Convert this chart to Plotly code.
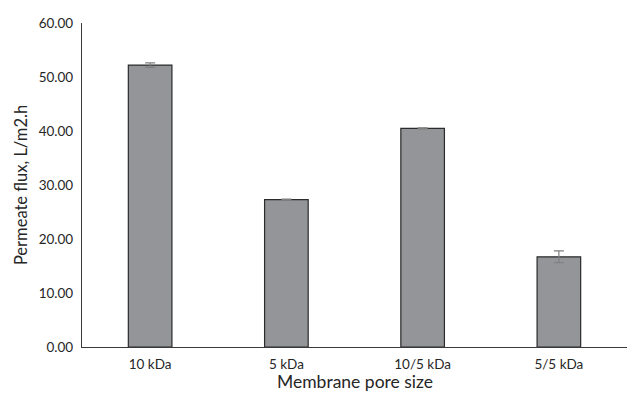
import plotly.graph_objects as go

# Permeate flux by membrane pore size
pore_sizes = ["10 kDa", "5 kDa", "10/5 kDa", "5/5 kDa"]
flux = [52.2, 27.3, 40.5, 16.7]
flux_err = [0.4, 0.1, 0.1, 1.1]
y_ticks = [0, 10, 20, 30, 40, 50, 60]

fig = go.Figure(
    go.Bar(
        x=pore_sizes,
        y=flux,
        marker=dict(color="#939598", line=dict(color="#2b2b2b", width=1.2)),
        error_y=dict(type="data", array=flux_err, visible=True,
                     color="#7f7f7f", thickness=1.2, width=5),
        width=0.32,
    )
)

font_family = "Lato, 'Open Sans', sans-serif"
fig.update_layout(
    width=636, height=395,
    margin=dict(l=82, r=9, t=23, b=48),
    plot_bgcolor="white", paper_bgcolor="white",
    showlegend=False,
    font=dict(family=font_family, color="#262626", size=13.5),
    xaxis=dict(
        range=[-0.5, 3.5],
        automargin=False,
        showline=True, linecolor="#3a3a3a", linewidth=1.2,
        ticks="", showgrid=False,
        tickfont=dict(size=13.5),
        ticklabelstandoff=5,
    ),
    yaxis=dict(
        range=[0, 60],
        automargin=False,
        tickvals=y_ticks,
        tickformat=".2f",
        showline=True, linecolor="#3a3a3a", linewidth=1.2,
        ticks="", showgrid=False, zeroline=False,
        tickfont=dict(size=13.5),
        ticklabelstandoff=5,
        title=dict(text="Permeate flux, L/m2.h", font=dict(size=16.5), standoff=6),
    ),
    # x-axis title placed at the very bottom of the page
    annotations=[dict(
        text="Membrane pore size", xref="paper", yref="paper",
        x=0.5, y=-0.146, xanchor="center", yanchor="bottom",
        showarrow=False, font=dict(size=17.5),
    )],
)

fig.write_html("out.html")
